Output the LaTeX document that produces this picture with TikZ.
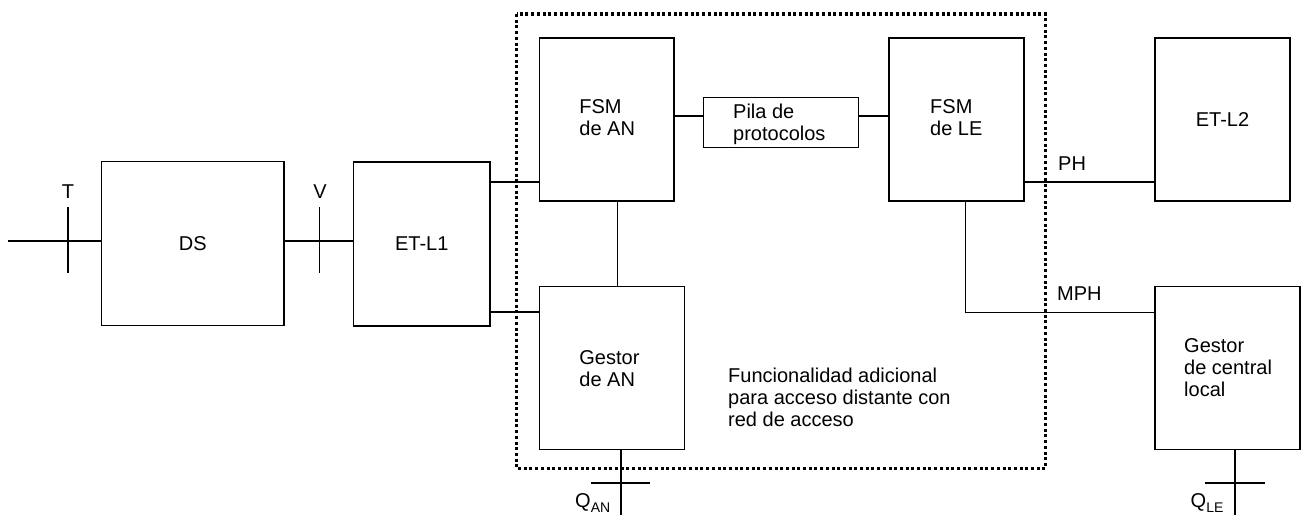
\documentclass[tikz,border=0pt]{standalone}
\usepackage{fontspec}
\setmainfont{Liberation Sans}
\begin{document}
\begin{tikzpicture}[x=1pt,y=-1pt,
  box/.style={draw,line width=1.2pt,inner sep=0pt,minimum width=#1},
  conn/.style={line width=1.7pt},
  thin conn/.style={line width=1.2pt},
  lbl/.style={inner sep=0pt,font=\fontsize{20}{21.7}\selectfont},
  txt/.style={inner sep=0pt,align=left,anchor=base west,font=\fontsize{20}{21.7}\selectfont},
  region/.style={line width=3.1pt,dash pattern=on 3pt off 2.7pt}]
\useasboundingbox (0,0) rectangle (1302,515);
% region
\draw[region] (516.5,14) rectangle (1045.5,468.5);
% boxes
\node[box=182.4pt,minimum height=164pt,lbl,draw] (DS) at (192.8,243.7) {DS};
\node[box=136.4pt,minimum height=164pt,lbl,draw] (ETL1) at (421.8,244) {ET-L1};
\node[box=134.5pt,minimum height=163pt] (FSMAN) at (606.75,119.5) {};
\node[box=155pt,minimum height=50.4pt] (Pila) at (781,122.5) {};
\node[box=135pt,minimum height=163pt] (FSMLE) at (956.5,119.5) {};
\node[box=135pt,minimum height=163pt,lbl,draw] (ETL2) at (1222.5,119.5) {ET-L2};
\node[box=145pt,minimum height=162.6pt] (GAN) at (612,368) {};
\node[box=145pt,minimum height=162.6pt] (GLE) at (1227.5,368) {};
% box texts (anchor = baseline of last line)
\node[txt] (tFSMAN) at (579.2,135) {FSM\\de AN};
\node[txt] (tPila) at (733,140) {Pila de\\protocolos};
\node[txt] (tFSMLE) at (930,135) {FSM\\de LE};
\node[txt] (tGAN) at (579.2,386) {Gestor\\de AN};
\node[txt] (tGLE) at (1184,396) {Gestor\\de central\\local};
\node[txt] (tFunc) at (728,426) {Funcionalidad adicional\\para acceso distante con\\red de acceso};
% coordinates
\coordinate (Tin) at (7.6,241);
\coordinate (Tp) at (67.8,241);
\coordinate (Vp) at (319.6,241);
\coordinate (yU) at (0,182);
\coordinate (yL) at (0,312);
\coordinate (yP) at (0,116);
\coordinate (xA) at (617.4,0);
\coordinate (xL) at (965.7,0);
\coordinate (yM) at (0,312.3);
\coordinate (QANend) at (621,515);
\coordinate (QLEend) at (1235,515);
\coordinate (QANt) at (621,482.7);
\coordinate (QLEt) at (1235,482.7);
% connectors
\draw[thin conn] (Tin) -- (Tin -| DS.west);
\draw[conn] (Tp) ++(0,-33.7) -- ++(0,65.4);
\draw[conn] (Tin -| DS.east) -- (Tin -| ETL1.west);
\draw[conn] (Vp) ++(0,-33.7) -- ++(0,65.4);
\draw[conn] (yU -| ETL1.east) -- (yU -| FSMAN.west);
\draw[conn] (yL -| ETL1.east) -- (yL -| GAN.west);
\draw[thin conn] (yP -| FSMAN.east) -- (yP -| Pila.west);
\draw[thin conn] (yP -| Pila.east) -- (yP -| FSMLE.west);
\draw[conn] (FSMAN.south -| xA) -- (GAN.north -| xA);
\draw[conn] (ETL2.west |- 0,181.7) -- (FSMLE.east |- 0,181.7);
\draw[thin conn] (FSMLE.south -| xL) -- (yM -| xL) -- (yM -| GLE.west);
\draw[conn] (GAN.south -| QANend) -- (QANend);
\draw[conn] (QANt) ++(-30,0) -- ++(59,0);
\draw[conn] (GLE.south -| QLEend) -- (QLEend);
\draw[conn] (QLEt) ++(-30,0) -- ++(60,0);
% labels
\node[lbl,anchor=base] (T) at (68,198.3) {T};
\node[lbl,anchor=base] (V) at (320,198.3) {V};
\node[lbl,anchor=base west] (PH) at (1058,170) {PH};
\node[lbl,anchor=base west] (MPH) at (1057,300) {MPH};
\node[lbl,anchor=base west] (QAN) at (575,507) {Q\raisebox{-5pt}{\fontsize{14}{14}\selectfont AN}};
\node[lbl,anchor=base west] (QLE) at (1190.5,507) {Q\raisebox{-5pt}{\fontsize{14}{14}\selectfont LE}};
\end{tikzpicture}
\end{document}
